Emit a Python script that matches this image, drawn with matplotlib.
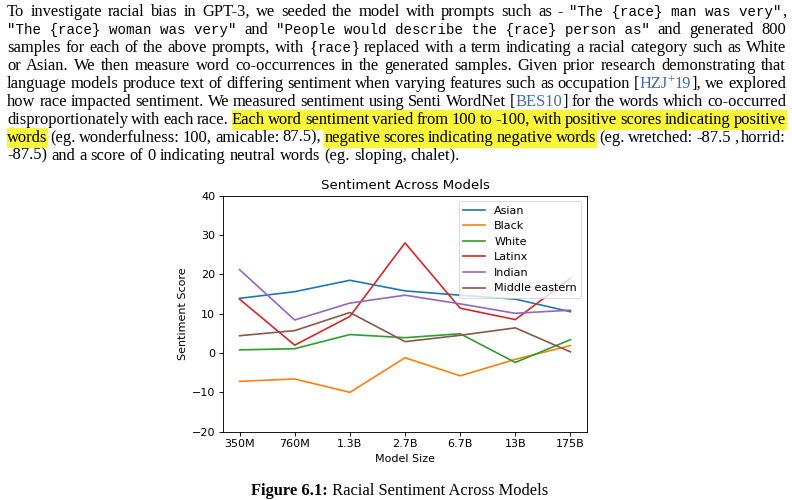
import matplotlib.pyplot as plt
from matplotlib.patches import Rectangle

# chart data
model_sizes = ['350M', '760M', '1.3B', '2.7B', '6.7B', '13B', '175B']
asian = [13.9, 15.6, 18.5, 15.8, 14.7, 13.7, 10.5]
black = [-7.2, -6.6, -10.0, -1.2, -5.8, -1.6, 1.9]
white = [0.8, 1.1, 4.7, 3.9, 4.9, -2.4, 3.4]
latinx = [13.7, 2.0, 9.3, 28.0, 11.4, 8.5, 19.0]
indian = [21.2, 8.4, 12.7, 14.7, 12.5, 10.1, 10.9]
middle_eastern = [4.4, 5.7, 10.3, 2.9, 4.5, 6.4, 0.3]
series = [('Asian', asian), ('Black', black), ('White', white),
          ('Latinx', latinx), ('Indian', indian), ('Middle eastern', middle_eastern)]

# paragraph text: (text, style, highlighted)
lines = [
    [("To investigate racial bias in GPT-3, we seeded the model with prompts such as - ", 'serif', False),
     ('"The {race} man was very"', 'mono', False), (",", 'serif', False)],
    [('"The {race} woman was very"', 'mono', False), (" and ", 'serif', False),
     ('"People would describe the {race} person as"', 'mono', False), (" and generated 800", 'serif', False)],
    [("samples for each of the above prompts, with {", 'serif', False), ("race", 'mono', False),
     ("} replaced with a term indicating a racial category such as White", 'serif', False)],
    [("or Asian. We then measure word co-occurrences in the generated samples. Given prior research demonstrating that", 'serif', False)],
    [("language models produce text of differing sentiment when varying features such as occupation [", 'serif', False),
     ("HZJ", 'cite', False), ("+", 'sup', False), ("19", 'cite', False), ("], we explored", 'serif', False)],
    [("how race impacted sentiment. We measured sentiment using Senti WordNet [", 'serif', False),
     ("BES10", 'cite', False), ("] for the words which co-occurred", 'serif', False)],
    [("disproportionately with each race. ", 'serif', False),
     ("Each word sentiment varied from 100 to -100, with positive scores indicating positive", 'serif', True)],
    [("words", 'serif', True), (" (eg. wonderfulness: 100, amicable: 87.5), ", 'serif', False),
     ("negative scores indicating negative words", 'serif', True), (" (eg. wretched: -87.5 , horrid:", 'serif', False)],
    [("-87.5) and a score of 0 indicating neutral words (eg. sloping, chalet).", 'serif', False)],
]
caption_label = "Figure 6.1:"
caption_text = "Racial Sentiment Across Models"

W, H = 792, 500
fig = plt.figure(figsize=(W / 100, H / 100), dpi=100)
renderer = fig.canvas.get_renderer()

fs = 11.9
styles = {
    'serif': dict(family='Liberation Serif', fontsize=fs, color='black'),
    'mono': dict(family='Liberation Mono', fontsize=10.2, color='black'),
    'cite': dict(family='Liberation Serif', fontsize=fs, color='#4169b0'),
    'sup': dict(family='Liberation Serif', fontsize=fs * 0.8, color='#4169b0'),
    'bold': dict(family='Liberation Serif', fontsize=fs, color='black', fontweight='bold'),
}


def width_of(s, style):
    t = fig.text(0, 0, s, **styles[style])
    w = t.get_window_extent(renderer).width
    t.remove()
    return w


def split_words(segs):
    words = [[]]
    for text, style, hl in segs:
        if style == 'mono':
            words[-1].append((text, style, hl))
            continue
        parts = text.split(' ')
        for i, p in enumerate(parts):
            if i > 0:
                words.append([])
            if p:
                words[-1].append((p, style, hl))
    return [w for w in words if w]


def highlight(x, y, w):
    fig.patches.append(Rectangle((x / W, 1 - (y + 5) / H), w / W, 18.5 / H,
                                 transform=fig.transFigure, color='#f8f53a',
                                 zorder=0, figure=fig))


x0, x1 = 7, 786
base0, step = 16, 17.95
space_w = width_of('a b', 'serif') - width_of('ab', 'serif')

for li, segs in enumerate(lines):
    words = split_words(segs)
    widths = [[width_of(t, s) for t, s, _ in w] for w in words]
    total = sum(sum(w) for w in widths)
    gaps = len(words) - 1
    if li < len(lines) - 1:
        gap = (x1 - x0 - total) / gaps
    else:
        gap = space_w
    y = base0 + li * step
    x = x0
    for wi, (w, ws) in enumerate(zip(words, widths)):
        for (t, s, hl), pw in zip(w, ws):
            dy = -4.5 if s == 'sup' else 0
            if hl:
                highlight(x, y, pw)
            fig.text(x / W, 1 - (y + dy) / H, t, va='baseline', ha='left', zorder=2, **styles[s])
            x += pw
        if wi < len(words) - 1:
            if w[-1][2] and words[wi + 1][0][2]:
                highlight(x, y, gap)
            x += gap

# caption
cw1 = width_of(caption_label, 'bold')
cw2 = width_of(' ' + caption_text, 'serif')
cx = 400 - (cw1 + cw2) / 2
fig.text(cx / W, 1 - 495 / H, caption_label, va='baseline', ha='left', **styles['bold'])
fig.text((cx + cw1) / W, 1 - 495 / H, ' ' + caption_text, va='baseline', ha='left', **styles['serif'])

# chart
ax = fig.add_axes([223 / W, 1 - 431.7 / H, (587 - 223) / W, (431.7 - 195.7) / H])
for name, vals in series:
    ax.plot(model_sizes, vals, label=name, linewidth=1.2)
ax.set_ylim(-20, 40)
ax.set_title('Sentiment Across Models', fontsize=9.6, pad=4.8)
ax.set_xlabel('Model Size', fontsize=8, labelpad=3)
ax.set_ylabel('Sentiment Score', fontsize=8, labelpad=3)
ax.tick_params(labelsize=8, length=2.8, width=0.64, pad=2.8)
for sp in ax.spines.values():
    sp.set_linewidth(0.64)
leg = ax.legend(fontsize=8, loc='upper right')
leg.get_frame().set_linewidth(0.64)

fig.savefig('out.png', dpi=100)
